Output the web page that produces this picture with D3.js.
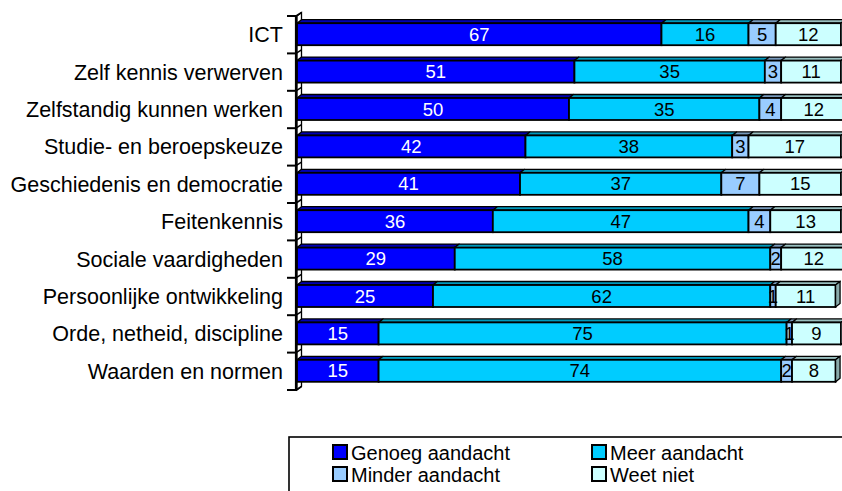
<!DOCTYPE html>
<html>
<head>
<meta charset="utf-8">
<script src="https://cdn.jsdelivr.net/npm/d3@7"></script>
<style>
  html, body { margin: 0; padding: 0; background: #fff; }
  svg { display: block; }
  text { font-family: "Liberation Sans", Arial, sans-serif; }
</style>
</head>
<body>
<svg id="chart" width="842" height="491"></svg>
<script>
// ---- data ----
const categories = [
  "ICT",
  "Zelf kennis verwerven",
  "Zelfstandig kunnen werken",
  "Studie- en beroepskeuze",
  "Geschiedenis en democratie",
  "Feitenkennis",
  "Sociale vaardigheden",
  "Persoonlijke ontwikkeling",
  "Orde, netheid, discipline",
  "Waarden en normen"
];
const seriesNames = ["Genoeg aandacht", "Meer aandacht", "Minder aandacht", "Weet niet"];
const genoeg = [67, 51, 50, 42, 41, 36, 29, 25, 15, 15];
const meer   = [16, 35, 35, 38, 37, 47, 58, 62, 75, 74];
const minder = [5, 3, 4, 3, 7, 4, 2, 1, 1, 2];
const weet   = [12, 11, 12, 17, 15, 13, 12, 11, 9, 8];
const seriesValues = [genoeg, meer, minder, weet];

const frontColors = ["#0000FF", "#00CCFF", "#99CCFF", "#CCFFFF"];
const topColors   = ["#0000B4", "#0099BB", "#7799BB", "#99BFBF"];
const labelColors = ["#FFFFFF", "#000000", "#000000", "#000000"];

// ---- layout ----
const svg = d3.select("#chart");
const x0 = 297, x1 = 841;
const yTop = 16, yBot = 390;
const dx = 4.5, dy = 3.5;       // 3D depth offset
const halfBar = 11;

const x = d3.scaleLinear().domain([0, 100]).range([x0, x1]);
const y = d3.scaleBand().domain(categories).range([yTop, yBot]);

// stacked data
const rows = categories.map((c, i) => {
  let acc = 0;
  return seriesValues.map((s, k) => {
    const seg = { cat: c, k, v: s[i], start: acc, end: acc + s[i] };
    acc += s[i];
    return seg;
  });
});

// ---- wall (left side with depth) ----
const g = svg.append("g");
g.append("path")
  .attr("d", `M${x0},${yTop} L${x0 + dx},${yTop - dy} L${x0 + dx},${yBot - dy} L${x0},${yBot} Z`)
  .attr("fill", "#fff").attr("stroke", "#000").attr("stroke-width", 1.3);

const tickYs = categories.map(c => y(c)).concat([yBot]);
g.selectAll("line.tick").data(tickYs).enter().append("line")
  .attr("x1", x0 - 10).attr("x2", x0).attr("y1", d => d).attr("y2", d => d)
  .attr("stroke", "#000").attr("stroke-width", 2);
g.selectAll("line.slant").data(tickYs).enter().append("line")
  .attr("x1", x0 - 1).attr("x2", x0 + dx).attr("y1", d => d).attr("y2", d => d - dy)
  .attr("stroke", "#000").attr("stroke-width", 1.5);
g.append("line")
  .attr("x1", x0 - 1).attr("x2", x0 - 1).attr("y1", yTop - 1).attr("y2", yBot + 1)
  .attr("stroke", "#000").attr("stroke-width", 2.2);

// ---- bars ----
const bars = svg.append("g");
rows.forEach((row, i) => {
  const cy = y(categories[i]) + y.bandwidth() / 2 - 0.5;
  const ft = cy - halfBar, fb = cy + halfBar;
  const bg = bars.append("g");
  row.forEach(seg => {
    const a = x(seg.start), b = x(seg.end);
    // top face
    bg.append("path")
      .attr("d", `M${a},${ft} L${a + dx},${ft - dy} L${b + dx},${ft - dy} L${b},${ft} Z`)
      .attr("fill", topColors[seg.k]).attr("stroke", "#000").attr("stroke-width", 1.3)
      .attr("stroke-linejoin", "round");
    // front face
    bg.append("rect")
      .attr("x", a).attr("y", ft).attr("width", Math.max(0, b - a)).attr("height", fb - ft)
      .attr("fill", frontColors[seg.k]).attr("stroke", "#000").attr("stroke-width", 1.8);
  });
  // right side face
  const last = row[row.length - 1];
  const e = x(last.end);
  bg.append("path")
    .attr("d", `M${e},${ft} L${e + dx},${ft - dy} L${e + dx},${fb - dy} L${e},${fb} Z`)
    .attr("fill", "#88AAAA").attr("stroke", "#000").attr("stroke-width", 1.3);
  // labels
  row.forEach(seg => {
    bg.append("text")
      .attr("x", (x(seg.start) + x(seg.end)) / 2)
      .attr("y", cy + 6.5)
      .attr("text-anchor", "middle")
      .attr("font-size", 18.5)
      .attr("fill", labelColors[seg.k])
      .text(seg.v);
  });
});

// ---- category labels ----
svg.append("g").selectAll("text").data(categories).enter().append("text")
  .attr("x", 283)
  .attr("y", d => y(d) + y.bandwidth() / 2 + 7.5)
  .attr("text-anchor", "end")
  .attr("font-size", 21.5)
  .attr("fill", "#000")
  .text(d => d);

// ---- legend ----
const lg = svg.append("g");
lg.append("rect")
  .attr("x", 289).attr("y", 437).attr("width", 600).attr("height", 100)
  .attr("fill", "#fff").attr("stroke", "#000").attr("stroke-width", 1.6);
const legendPos = [
  { x: 333, y: 445 }, { x: 592, y: 445 },
  { x: 333, y: 467 }, { x: 592, y: 467 }
];
seriesNames.forEach((name, k) => {
  const p = legendPos[k];
  lg.append("rect")
    .attr("x", p.x).attr("y", p.y).attr("width", 14).attr("height", 14)
    .attr("fill", frontColors[k]).attr("stroke", "#000").attr("stroke-width", 2);
  lg.append("text")
    .attr("x", p.x + 18).attr("y", p.y + 15)
    .attr("font-size", 20)
    .attr("fill", "#000")
    .text(name);
});
</script>
</body>
</html>
